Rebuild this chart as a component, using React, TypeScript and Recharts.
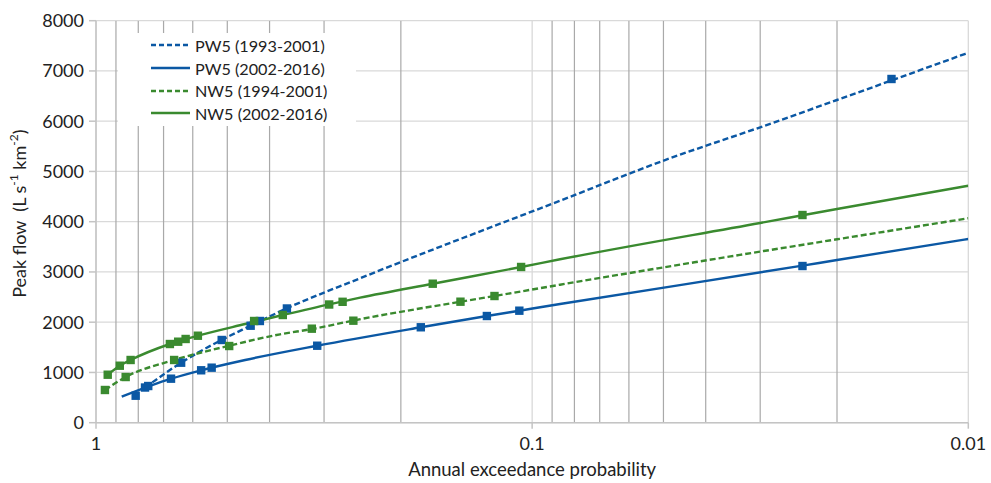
import React from "react";
import {
  ComposedChart,
  Line,
  Scatter,
  XAxis,
  YAxis,
  CartesianGrid,
  ReferenceLine,
  Legend,
} from "recharts";

const BLUE = "#0b58a4";
const GREEN = "#3a8a2f";
const FONT = "Lato, 'Open Sans', sans-serif";

// Axis ticks
const xMajorTicks = [1, 0.1, 0.01];
const xMinorGrid = [0.9, 0.8, 0.7, 0.6, 0.5, 0.4, 0.3, 0.2, 0.09, 0.08, 0.07, 0.06, 0.05, 0.04, 0.03, 0.02];
const yTicks = [0, 1000, 2000, 3000, 4000, 5000, 6000, 7000, 8000];

// Observed peaks (annual exceedance probability p, peak flow q)
const pw5EarlyObs = [
  { p: 0.811, q: 537 }, { p: 0.772, q: 700 }, { p: 0.759, q: 730 }, { p: 0.638, q: 1194 },
  { p: 0.515, q: 1646 }, { p: 0.442, q: 1930 }, { p: 0.421, q: 2024 }, { p: 0.365, q: 2273 },
  { p: 0.015, q: 6840 },
];
const pw5LateObs = [
  { p: 0.673, q: 876 }, { p: 0.574, q: 1043 }, { p: 0.543, q: 1095 }, { p: 0.311, q: 1532 },
  { p: 0.18, q: 1899 }, { p: 0.127, q: 2123 }, { p: 0.107, q: 2229 }, { p: 0.024, q: 3118 },
];
const nw5EarlyObs = [
  { p: 0.954, q: 651 }, { p: 0.855, q: 909 }, { p: 0.662, q: 1248 }, { p: 0.495, q: 1526 },
  { p: 0.32, q: 1871 }, { p: 0.257, q: 2030 }, { p: 0.146, q: 2408 }, { p: 0.122, q: 2521 },
];
const nw5LateObs = [
  { p: 0.94, q: 955 }, { p: 0.882, q: 1134 }, { p: 0.833, q: 1248 }, { p: 0.677, q: 1566 },
  { p: 0.648, q: 1612 }, { p: 0.623, q: 1666 }, { p: 0.584, q: 1731 }, { p: 0.434, q: 2024 },
  { p: 0.373, q: 2143 }, { p: 0.292, q: 2352 }, { p: 0.272, q: 2406 }, { p: 0.169, q: 2766 },
  { p: 0.106, q: 3099 }, { p: 0.024, q: 4133 },
];

// Fitted curves
const pw5EarlyFit = [
  { p: 0.772, q: 697 }, { p: 0.638, q: 1194 }, { p: 0.515, q: 1648 }, { p: 0.442, q: 1930 },
  { p: 0.365, q: 2277 }, { p: 0.248, q: 2874 }, { p: 0.0863, q: 4418 }, { p: 0.0483, q: 5262 },
  { p: 0.03, q: 5879 }, { p: 0.02, q: 6422 }, { p: 0.01, q: 7363 },
];
const pw5LateFit = [
  { p: 0.873, q: 517 }, { p: 0.673, q: 876 }, { p: 0.574, q: 1043 }, { p: 0.455, q: 1248 },
  { p: 0.311, q: 1532 }, { p: 0.18, q: 1899 }, { p: 0.127, q: 2123 },
  { p: 0.107, q: 2229 }, { p: 0.0863, q: 2362 }, { p: 0.024, q: 3125 }, { p: 0.02, q: 3238 },
  { p: 0.01, q: 3656 },
];
const nw5EarlyFit = [
  { p: 0.954, q: 651 }, { p: 0.855, q: 909 }, { p: 0.662, q: 1248 }, { p: 0.495, q: 1532 },
  { p: 0.3785, q: 1759 }, { p: 0.319, q: 1865 }, { p: 0.258, q: 2030 }, { p: 0.146, q: 2408 },
  { p: 0.122, q: 2521 }, { p: 0.0863, q: 2746 }, { p: 0.03, q: 3405 }, { p: 0.02, q: 3650 },
  { p: 0.01, q: 4068 },
];
const nw5LateFit = [
  { p: 0.94, q: 955 }, { p: 0.882, q: 1134 }, { p: 0.833, q: 1248 }, { p: 0.677, q: 1566 },
  { p: 0.584, q: 1731 }, { p: 0.455, q: 1964 }, { p: 0.373, q: 2143 }, { p: 0.292, q: 2356 },
  { p: 0.248, q: 2488 }, { p: 0.169, q: 2766 }, { p: 0.106, q: 3098 }, { p: 0.0863, q: 3252 },
  { p: 0.03, q: 3975 }, { p: 0.02, q: 4253 }, { p: 0.01, q: 4716 },
];

const series = [
  { name: "PW5 (1993-2001)", color: BLUE, dashed: true, fit: pw5EarlyFit, obs: pw5EarlyObs },
  { name: "PW5 (2002-2016)", color: BLUE, dashed: false, fit: pw5LateFit, obs: pw5LateObs },
  { name: "NW5 (1994-2001)", color: GREEN, dashed: true, fit: nw5EarlyFit, obs: nw5EarlyObs },
  { name: "NW5 (2002-2016)", color: GREEN, dashed: false, fit: nw5LateFit, obs: nw5LateObs },
];

const squareShape = (color: string) => (props: any) => {
  const { cx, cy } = props;
  if (cx == null || cy == null) return <g />;
  return <rect x={cx - 4.2} y={cy - 4.2} width={8.4} height={8.4} fill={color} />;
};

const renderLegend = () => (
  <div
    style={{
      background: "#fff",
      width: 238,
      height: 93,
      boxSizing: "border-box",
      paddingTop: 1,
      fontFamily: FONT,
      fontSize: 16.2,
      color: "#222",
    }}
  >
    {series.map((s) => (
      <div key={s.name} style={{ height: 22.7, display: "flex", alignItems: "center" }}>
        <svg width={39} height={4} style={{ marginLeft: 33, marginRight: 5 }}>
          <line
            x1={0}
            y1={2}
            x2={39}
            y2={2}
            stroke={s.color}
            strokeWidth={2.5}
            strokeDasharray={s.dashed ? "5 3" : undefined}
          />
        </svg>
        <span style={{ whiteSpace: "pre" }}>{s.name}</span>
      </div>
    ))}
  </div>
);

const renderYLabel = (props: any) => {
  const vb = props && props.viewBox ? props.viewBox : { x: 0, y: 20.7, width: 96, height: 402 };
  const cx = vb.x + 19;
  const cy = vb.y + vb.height / 2 - 8;
  return (
    <text
      x={cx}
      y={cy}
      transform={`rotate(-90 ${cx} ${cy})`}
      textAnchor="middle"
      dominantBaseline="central"
      fontFamily={FONT}
      fontSize={18}
      fill="#222"
      style={{ whiteSpace: "pre" }}
    >
      {"Peak flow  (L s"}
      <tspan dy={-6} fontSize={12}>-1</tspan>
      <tspan dy={6}>{" km"}</tspan>
      <tspan dy={-6} fontSize={12}>-2</tspan>
      <tspan dy={6}>)</tspan>
    </text>
  );
};

const renderXLabel = (props: any) => {
  const vb = props && props.viewBox ? props.viewBox : { x: 96, y: 422.7, width: 872.3, height: 60.3 };
  return (
    <text
      x={vb.x + vb.width / 2}
      y={vb.y + 53}
      textAnchor="middle"
      fontFamily={FONT}
      fontSize={18.5}
      fill="#222"
    >
      Annual exceedance probability
    </text>
  );
};

export default function App() {
  return (
    <div style={{ position: "absolute", left: 0, top: 0, width: 991, height: 483, background: "#fff" }}>
      <ComposedChart width={991} height={483} margin={{ top: 20.7, right: 22.7, bottom: 0, left: 0 }}>
        <CartesianGrid stroke="#d9d9d9" strokeWidth={1.3} />
        {xMinorGrid.map((v) => (
          <ReferenceLine key={v} x={v} stroke="#a9a9a9" strokeWidth={1.2} ifOverflow="hidden" />
        ))}
        <XAxis
          dataKey="p"
          type="number"
          scale="log"
          domain={[0.01, 1]}
          reversed
          allowDataOverflow
          ticks={xMajorTicks}
          interval={0}
          height={60.3}
          tickSize={6}
          tickMargin={9}
          stroke="#c4c4c4"
          strokeWidth={1.5}
          tick={{ fontFamily: FONT, fontSize: 18, fill: "#222" }}
          label={renderXLabel}
        />
        <YAxis
          dataKey="q"
          type="number"
          domain={[0, 8000]}
          ticks={yTicks}
          interval={0}
          width={96}
          tickSize={7}
          tickMargin={5}
          stroke="#c4c4c4"
          strokeWidth={1.5}
          tick={{ fontFamily: FONT, fontSize: 18, fill: "#222" }}
          label={renderYLabel}
        />
        {series.map((s) => (
          <Line
            key={"fit-" + s.name}
            data={s.fit}
            dataKey="q"
            type="monotone"
            stroke={s.color}
            strokeWidth={2.4}
            strokeDasharray={s.dashed ? "6 3" : undefined}
            dot={false}
            activeDot={false}
            isAnimationActive={false}
            legendType="none"
          />
        ))}
        {series.map((s) => (
          <Scatter
            key={"obs-" + s.name}
            data={s.obs}
            dataKey="q"
            fill={s.color}
            shape={squareShape(s.color)}
            isAnimationActive={false}
            legendType="none"
          />
        ))}
        <Legend
          content={renderLegend}
          layout="vertical"
          align="center"
          verticalAlign="middle"
          wrapperStyle={{ left: 118, top: 33, width: 238, height: 93 }}
        />
      </ComposedChart>
    </div>
  );
}
